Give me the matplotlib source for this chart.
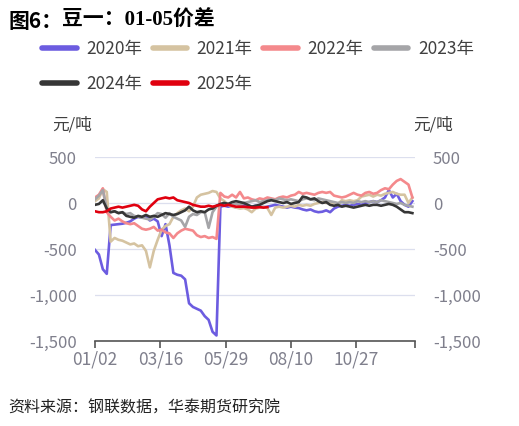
import matplotlib
matplotlib.use('Agg')
import matplotlib.pyplot as plt
from matplotlib.ticker import FuncFormatter

plt.rcParams['font.family'] = ['Noto Sans CJK SC', 'DejaVu Sans']
plt.rcParams['axes.unicode_minus'] = False

# trading-day index (every 3rd day), 0 = 01/02
days = list(range(0, 244, 3))
tick_pos = [0, 50, 100, 150, 200, 245]
tick_labels = ['01/02', '03/16', '05/29', '08/10', '10/27', '']

s2020 = [-510, -560, -720, -770, -240, -235, -230, -225, -215, -200, -170, -150, -160, -140,
         -190, -170, -200, -360, -230, -460, -760, -780, -790, -830, -1090, -1130, -1150, -1170,
         -1230, -1270, -1400, -1440, -40, -30, -40, -30, -50, -40, -20, -30, -40, -30, -40, -45,
         -40, -30, -20, -30, -40, -50, -40, -50, -55, -70, -80, -70, -90, -100, -95, -80, -100,
         -60, -40, -30, -20, -30, -20, -10, -20, 0, 10, 20, 10, 30, 60, 140, 60, 100, 20, -20,
         -40, 20]
s2021 = [20, 50, 150, 120, -420, -380, -400, -410, -430, -450, -440, -470, -460, -520, -700,
         -520, -400, -290, -250, -230, -150, -110, -80, -60, -90, -40, 60, 90, 100, 110, 130, 120,
         50, 20, -20, -40, -50, -60, -55, -70, -100, -60, -50, -40, -55, -130, -50, -40, -50, -40,
         -30, -40, -20, -30, -20, -30, -10, 0, 10, 0, 10, 0, -10, 30, 20, 30, 20, 30, 70, 80, 90,
         70, 90, 80, 100, 110, 120, 100, 90, 90, 0, 60]
s2022 = [60, 90, 160, -100, -150, -190, -170, -200, -220, -230, -220, -250, -280, -290, -280,
         -260, -300, -290, -320, -330, -380, -330, -300, -280, -290, -300, -350, -370, -360, -380,
         -370, -390, 110, 70, 60, 90, 60, 120, 50, 60, 40, 30, 50, 40, 60, 50, 40, 60, 70, 60, 80,
         90, 120, 100, 110, 100, 90, 110, 120, 110, 120, 80, 70, 60, 70, 90, 110, 90, 80, 110, 120,
         100, 110, 140, 160, 150, 200, 240, 260, 230, 200, 60]
s2023 = [40, 80, 140, -60, -100, -90, -110, -100, -120, -110, -140, -150, -160, -170, -180,
         -150, -110, -120, -160, -110, -150, -170, -190, -260, -150, -120, -130, -100, -100, -270,
         -100, -40, -20, 0, -10, -20, -10, -20, 0, 10, 20, 30, 10, 20, 30, 40, 30, 50, 40, 30, 40,
         30, 20, 40, 50, 40, 30, 50, 40, 30, 20, 10, 0, 10, 0, 10, 0, 20, 10, 20, 10, 20, 10, 30,
         20, 10, 0, -10, 0, -20, -30, -40]
s2024 = [-20, -10, 30, -60, -100, -90, -110, -100, -140, -150, -160, -140, -150, -130, -150,
         -140, -150, -130, -110, -120, -130, -120, -100, -80, -40, -80, -100, -90, -100, -70, -60,
         -30, -10, 0, -10, 10, 20, 10, 0, -20, -40, -30, -20, 0, 20, 30, 20, 10, 0, 10, -10, 0,
         10, 70, 60, 40, 50, 20, 0, 10, -20, -30, -20, -40, -30, -40, -50, -40, -30, -20, -30,
         -20, -20, -30, -20, -10, -20, -40, -70, -100, -100, -110]
s2025 = [-90, -100, -100, -90, -60, -50, -40, -50, -40, -30, -20, -30, -70, -90, -40, 0, 40,
         50, 60, 50, 60, 30, 20, 10, 0, -20, -30, -40, -40, -30, -40, -30, -20, -30, -20, -30,
         -40, -40, -40, -45, -50, -50, -45, -50, -45]

series = [('2020年', s2020, '#6c5ce0'),
          ('2021年', s2021, '#d5c3a1'),
          ('2022年', s2022, '#f4898c'),
          ('2023年', s2023, '#a5a5a8'),
          ('2024年', s2024, '#363636'),
          ('2025年', s2025, '#e0000f')]

grey = '#7f7f8c'
fig = plt.figure(figsize=(5.19, 4.26), dpi=100)
ax = fig.add_axes([95/519, 85/426, 320/519, 184/426])

lines = []
for name, vals, col in series:
    ln, = ax.plot(days[:len(vals)], vals, color=col, lw=1.9, label=name,
                  solid_joinstyle='round')
    lines.append(ln)

ax.set_xlim(0, 245)
ax.set_ylim(-1500, 500)
ax.set_yticks([-1500, -1000, -500, 0, 500])
fmt = FuncFormatter(lambda v, p: f'{int(v):,}')
ax.yaxis.set_major_formatter(fmt)
ax.set_xticks(tick_pos)
ax.set_xticklabels(tick_labels)
for s in ['top', 'left', 'right']:
    ax.spines[s].set_visible(False)
ax.spines['bottom'].set_color('#555555')
ax.spines['bottom'].set_linewidth(1.2)
ax.grid(axis='y', color='#dcdfee', lw=0.9)
ax.set_axisbelow(True)
ax.tick_params(axis='x', length=5, width=1.2, color='#555555', labelcolor=grey,
               labelsize=12.5, pad=2)
ax.tick_params(axis='y', length=0, labelcolor=grey, labelsize=12, pad=13)

ax2 = ax.twinx()
ax2.set_ylim(-1500, 500)
ax2.set_yticks([-1500, -1000, -500, 0, 500])
ax2.yaxis.set_major_formatter(fmt)
for s in ['top', 'left', 'right', 'bottom']:
    ax2.spines[s].set_visible(False)
ax2.tick_params(axis='y', length=0, labelcolor=grey, labelsize=12, pad=13)

fig.text(52/519, 1 - 125/426, '元/吨', fontsize=12, color='#404040', va='center')
fig.text(413/519, 1 - 125/426, '元/吨', fontsize=12, color='#404040', va='center')

# legend fills column by column, so order handles to read row by row
order = [0, 4, 1, 5, 2, 3]
leg = fig.legend(handles=[lines[i] for i in order], loc='upper left',
                 bbox_to_anchor=(35/519, 1 - 33/426),
                 ncol=4, frameon=False, fontsize=12.5, handlelength=2.0,
                 handletextpad=0.55, columnspacing=0.6, labelspacing=1.0,
                 borderaxespad=0, labelcolor='#404040')
for h in leg.legend_handles:
    h.set_linewidth(4)
    h.set_solid_capstyle('round')

t1 = fig.text(8/519, 1 - 21/426, '图6：', fontsize=15, fontweight='bold', va='center')
fig.canvas.draw()
bb = t1.get_window_extent(fig.canvas.get_renderer())
fig.text(bb.x1/519, 1 - 21/426, '豆一：01-05价差', fontsize=15, fontweight='bold',
         va='center', family=['Liberation Serif', 'Noto Sans CJK SC'])

fig.text(8/519, 1 - 408/426, '资料来源：钢联数据，华泰期货研究院', fontsize=11.5,
         color='#222222', va='center')

fig.savefig('out.png', dpi=100)
